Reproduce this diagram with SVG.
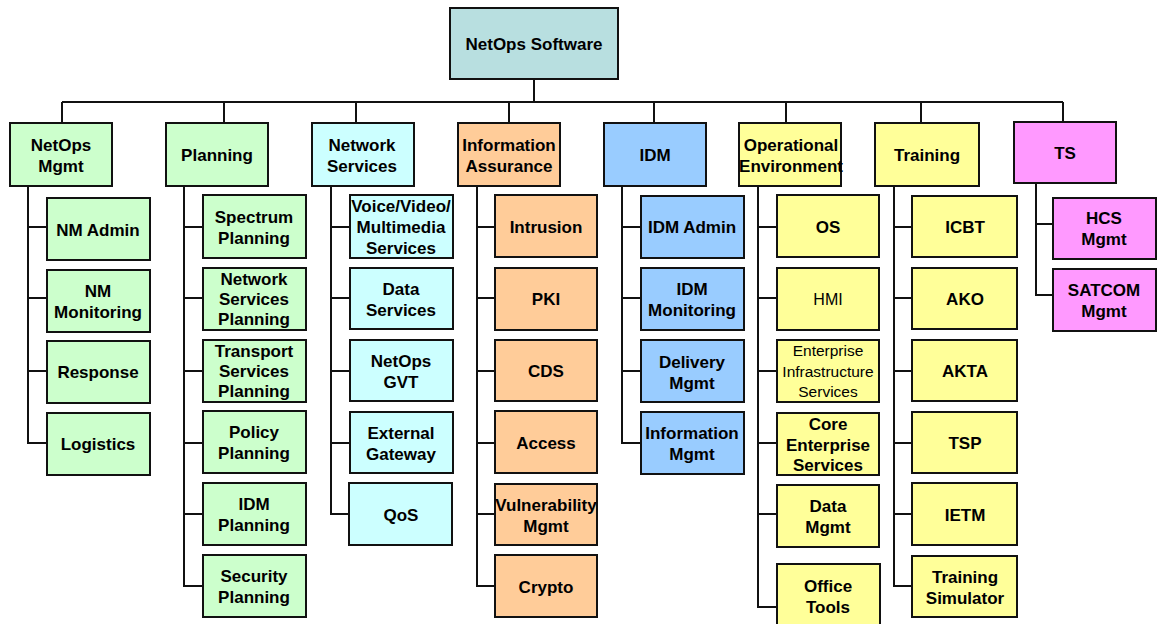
<svg xmlns="http://www.w3.org/2000/svg" width="1157" height="624" viewBox="0 0 1157 624">
<style>
rect{stroke:#111;stroke-width:2}
.root{fill:#b8dfe0}
.g{fill:#ccffcc}
.c{fill:#ccffff}
.o{fill:#ffcc99}
.b{fill:#99ccff}
.y{fill:#ffff99}
.m{fill:#ff99ff}
text{font-family:"Liberation Sans",Arial,sans-serif;font-size:17px;font-weight:bold;fill:#000;text-anchor:middle}
text.r{font-weight:normal}
#connectors path{fill:none;stroke:#111;stroke-width:2}
</style>
<rect width="1157" height="624" fill="#fff" style="stroke:none"/>
<g id="connectors">
<path d="M534 79V102M62 102H1063M62 102V123M224 102V123M356 102V123M509 102V123M654 102V123M786 102V123M921 102V123M1063 102V122"/>
<path d="M28 186V443H47M28 227H47M28 298H47M28 371H47"/>
<path d="M184 186V586H203M184 227H203M184 298H203M184 371H203M184 443H203M184 514H203"/>
<path d="M331 186V514H349M331 227H350M331 298H350M331 371H350M331 443H350"/>
<path d="M477 186V586H495M477 227H495M477 298H495M477 371H495M477 443H495M477 514H495"/>
<path d="M622 186V443H641M622 227H641M622 298H641M622 371H641"/>
<path d="M758 186V607H777M758 227H777M758 298H777M758 371H777M758 443H777M758 514H777"/>
<path d="M894 186V586H912M894 227H912M894 298H912M894 371H912M894 443H912M894 514H912"/>
<path d="M1036 183V295H1053M1036 224H1053"/>
</g>
<g id="root"><rect class="root" x="450" y="8" width="168" height="71"/><text x="534" y="50">NetOps Software</text></g>

<g id="netops-mgmt"><rect class="g" x="10" y="123" width="102" height="63"/><text x="61" y="151">NetOps</text><text x="61" y="172">Mgmt</text></g>
<g id="planning"><rect class="g" x="166" y="123" width="102" height="63"/><text x="217" y="161">Planning</text></g>
<g id="network-services"><rect class="c" x="312" y="123" width="102" height="63"/><text x="362" y="151">Network</text><text x="362" y="172">Services</text></g>
<g id="information-assurance"><rect class="o" x="458" y="123" width="102" height="63"/><text x="509" y="151">Information</text><text x="509" y="172">Assurance</text></g>
<g id="idm"><rect class="b" x="604" y="123" width="102" height="63"/><text x="655" y="161">IDM</text></g>
<g id="operational-environment"><rect class="y" x="739" y="123" width="102" height="63"/><text x="791" y="151">Operational</text><text x="791" y="172">Environment</text></g>
<g id="training"><rect class="y" x="875" y="123" width="104" height="63"/><text x="927" y="161">Training</text></g>
<g id="ts"><rect class="m" x="1014" y="122" width="102" height="61"/><text x="1065" y="159">TS</text></g>

<g id="nm-admin"><rect class="g" x="47" y="198" width="103" height="62"/><text x="98" y="236">NM Admin</text></g>
<g id="nm-monitoring"><rect class="g" x="47" y="270" width="103" height="62"/><text x="98" y="297">NM</text><text x="98" y="318">Monitoring</text></g>
<g id="response"><rect class="g" x="47" y="341" width="103" height="62"/><text x="98" y="378">Response</text></g>
<g id="logistics"><rect class="g" x="47" y="413" width="103" height="62"/><text x="98" y="450">Logistics</text></g>

<g id="spectrum-planning"><rect class="g" x="203" y="195" width="103" height="63"/><text x="254" y="223">Spectrum</text><text x="254" y="244">Planning</text></g>
<g id="network-services-planning"><rect class="g" x="203" y="268" width="103" height="62"/><text x="254" y="285">Network</text><text x="254" y="305">Services</text><text x="254" y="325">Planning</text></g>
<g id="transport-services-planning"><rect class="g" x="203" y="340" width="103" height="62"/><text x="254" y="357">Transport</text><text x="254" y="377">Services</text><text x="254" y="397">Planning</text></g>
<g id="policy-planning"><rect class="g" x="203" y="411" width="103" height="62"/><text x="254" y="438">Policy</text><text x="254" y="459">Planning</text></g>
<g id="idm-planning"><rect class="g" x="203" y="483" width="103" height="62"/><text x="254" y="510">IDM</text><text x="254" y="531">Planning</text></g>
<g id="security-planning"><rect class="g" x="203" y="555" width="103" height="62"/><text x="254" y="582">Security</text><text x="254" y="603">Planning</text></g>

<g id="voice-video"><rect class="c" x="350" y="195" width="103" height="63"/><text x="401" y="212">Voice/Video/</text><text x="401" y="233">Multimedia</text><text x="401" y="254">Services</text></g>
<g id="data-services"><rect class="c" x="350" y="268" width="103" height="61"/><text x="401" y="295">Data</text><text x="401" y="316">Services</text></g>
<g id="netops-gvt"><rect class="c" x="350" y="340" width="103" height="61"/><text x="401" y="367">NetOps</text><text x="401" y="388">GVT</text></g>
<g id="external-gateway"><rect class="c" x="350" y="412" width="103" height="61"/><text x="401" y="439">External</text><text x="401" y="460">Gateway</text></g>
<g id="qos"><rect class="c" x="349" y="483" width="103" height="62"/><text x="401" y="521">QoS</text></g>

<g id="intrusion"><rect class="o" x="495" y="195" width="102" height="62"/><text x="546" y="233">Intrusion</text></g>
<g id="pki"><rect class="o" x="495" y="268" width="102" height="62"/><text x="546" y="305">PKI</text></g>
<g id="cds"><rect class="o" x="495" y="340" width="102" height="61"/><text x="546" y="377">CDS</text></g>
<g id="access"><rect class="o" x="495" y="411" width="102" height="62"/><text x="546" y="449">Access</text></g>
<g id="vulnerability-mgmt"><rect class="o" x="495" y="484" width="102" height="61"/><text x="546" y="511">Vulnerability</text><text x="546" y="532">Mgmt</text></g>
<g id="crypto"><rect class="o" x="495" y="555" width="102" height="62"/><text x="546" y="593">Crypto</text></g>

<g id="idm-admin"><rect class="b" x="641" y="196" width="103" height="62"/><text x="692" y="233">IDM Admin</text></g>
<g id="idm-monitoring"><rect class="b" x="641" y="268" width="103" height="62"/><text x="692" y="295">IDM</text><text x="692" y="316">Monitoring</text></g>
<g id="delivery-mgmt"><rect class="b" x="641" y="340" width="103" height="62"/><text x="692" y="368">Delivery</text><text x="692" y="389">Mgmt</text></g>
<g id="information-mgmt"><rect class="b" x="641" y="412" width="103" height="62"/><text x="692" y="439">Information</text><text x="692" y="460">Mgmt</text></g>

<g id="os"><rect class="y" x="777" y="195" width="102" height="62"/><text x="828" y="233">OS</text></g>
<g id="hmi"><rect class="y" x="777" y="268" width="102" height="62"/><text class="r" x="828" y="305" style="font-size:16px">HMI</text></g>
<g id="enterprise-infrastructure-services"><rect class="y" x="777" y="340" width="102" height="62"/><text class="r" x="828" y="356" style="font-size:15.5px">Enterprise</text><text class="r" x="828" y="377" style="font-size:15.5px">Infrastructure</text><text class="r" x="828" y="397" style="font-size:15.5px">Services</text></g>
<g id="core-enterprise-services"><rect class="y" x="777" y="413" width="102" height="62"/><text x="828" y="430">Core</text><text x="828" y="451">Enterprise</text><text x="828" y="471">Services</text></g>
<g id="data-mgmt"><rect class="y" x="777" y="485" width="102" height="62"/><text x="828" y="512">Data</text><text x="828" y="533">Mgmt</text></g>
<g id="office-tools"><rect class="y" x="777" y="564" width="103" height="64"/><text x="828" y="592">Office</text><text x="828" y="613">Tools</text></g>

<g id="icbt"><rect class="y" x="912" y="196" width="105" height="61"/><text x="965" y="233">ICBT</text></g>
<g id="ako"><rect class="y" x="912" y="268" width="105" height="61"/><text x="965" y="305">AKO</text></g>
<g id="akta"><rect class="y" x="912" y="340" width="105" height="61"/><text x="965" y="377">AKTA</text></g>
<g id="tsp"><rect class="y" x="912" y="412" width="105" height="61"/><text x="965" y="449">TSP</text></g>
<g id="ietm"><rect class="y" x="912" y="483" width="105" height="62"/><text x="965" y="521">IETM</text></g>
<g id="training-simulator"><rect class="y" x="912" y="556" width="105" height="61"/><text x="965" y="583">Training</text><text x="965" y="604">Simulator</text></g>

<g id="hcs-mgmt"><rect class="m" x="1053" y="198" width="103" height="61"/><text x="1104" y="224">HCS</text><text x="1104" y="245">Mgmt</text></g>
<g id="satcom-mgmt"><rect class="m" x="1053" y="269" width="103" height="62"/><text x="1104" y="296">SATCOM</text><text x="1104" y="317">Mgmt</text></g>
</svg>
